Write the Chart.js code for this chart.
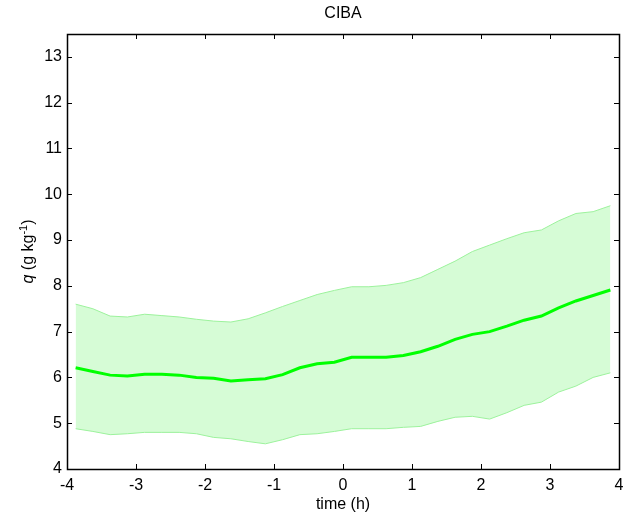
<!DOCTYPE html>
<html>
<head>
<meta charset="utf-8">
<script src="https://cdn.jsdelivr.net/npm/chart.js@4"></script>
<style>
    html, body { margin: 0; padding: 0; background: #fff; }
    #wrap { width: 624px; height: 518px; position: relative; }
</style>
</head>
<body>
<div id="wrap"><canvas id="qChart" width="624" height="518"></canvas></div>
<script>
// time axis (h) and specific humidity q (g/kg)
const timeH = [-3.875, -3.625, -3.375, -3.125, -2.875, -2.625, -2.375, -2.125,
    -1.875, -1.625, -1.375, -1.125, -0.875, -0.625, -0.375, -0.125,
    0.125, 0.375, 0.625, 0.875, 1.125, 1.375, 1.625, 1.875,
    2.125, 2.375, 2.625, 2.875, 3.125, 3.375, 3.625, 3.875];
const qMean = [6.21, 6.13, 6.05, 6.03, 6.07, 6.07, 6.05, 6.00,
    5.98, 5.92, 5.95, 5.97, 6.06, 6.21, 6.30, 6.33,
    6.44, 6.44, 6.44, 6.48, 6.56, 6.68, 6.83, 6.94,
    7.00, 7.12, 7.25, 7.34, 7.52, 7.67, 7.79, 7.91];
const qUpper = [7.60, 7.50, 7.34, 7.32, 7.38, 7.35, 7.32, 7.27,
    7.23, 7.21, 7.28, 7.41, 7.55, 7.68, 7.81, 7.90,
    7.98, 7.98, 8.01, 8.07, 8.18, 8.36, 8.54, 8.75,
    8.89, 9.03, 9.16, 9.22, 9.42, 9.58, 9.62, 9.75];
const qLower = [4.88, 4.82, 4.75, 4.77, 4.80, 4.80, 4.80, 4.77,
    4.69, 4.66, 4.60, 4.55, 4.64, 4.75, 4.77, 4.82,
    4.88, 4.88, 4.88, 4.91, 4.93, 5.04, 5.13, 5.15,
    5.09, 5.23, 5.39, 5.46, 5.68, 5.81, 6.00, 6.10];
const xTicks = [-4, -3, -2, -1, 0, 1, 2, 3, 4];
const yTicks = [4, 5, 6, 7, 8, 9, 10, 11, 12, 13];

const FONT = 'Liberation Sans, Arial, sans-serif';
const FS = 16;

function toPoints(ys) {
    return timeH.map((t, i) => ({ x: t, y: ys[i] }));
}

// MATLAB style box, inward ticks on all four sides, title and axis labels
const matlabFrame = {
    id: 'matlabFrame',
    afterDraw(chart) {
        const ctx = chart.ctx;
        const a = chart.chartArea;
        const xs = chart.scales.x;
        const ys = chart.scales.y;
        const tl = 5;
        ctx.save();
        ctx.strokeStyle = '#000';
        ctx.lineWidth = 1;
        ctx.beginPath();
        xTicks.forEach(v => {
            const px = Math.round(xs.getPixelForValue(v)) + 0.5;
            ctx.moveTo(px, a.bottom); ctx.lineTo(px, a.bottom - tl);
            ctx.moveTo(px, a.top); ctx.lineTo(px, a.top + tl);
        });
        yTicks.forEach(v => {
            const py = Math.round(ys.getPixelForValue(v)) + 0.5;
            ctx.moveTo(a.left, py); ctx.lineTo(a.left + tl, py);
            ctx.moveTo(a.right, py); ctx.lineTo(a.right - tl, py);
        });
        ctx.stroke();
        ctx.lineWidth = 1.5;
        ctx.strokeRect(Math.round(a.left) + 0.5, Math.round(a.top) + 0.5,
            Math.round(a.right - a.left), Math.round(a.bottom - a.top));

        ctx.fillStyle = '#000';
        ctx.textAlign = 'center';
        ctx.textBaseline = 'middle';
        ctx.font = FS + 'px ' + FONT;
        const cx = (a.left + a.right) / 2;
        ctx.fillText('CIBA', cx, 14);
        ctx.fillText('time (h)', cx, 505);

        // y label: q (g kg^-1), rotated
        const parts = [
            { t: 'q', font: 'italic ' + FS + 'px ' + FONT, dy: 0 },
            { t: ' (g kg', font: FS + 'px ' + FONT, dy: 0 },
            { t: '-1', font: '11px ' + FONT, dy: -6 },
            { t: ')', font: FS + 'px ' + FONT, dy: 0 }
        ];
        let total = 0;
        parts.forEach(p => { ctx.font = p.font; p.w = ctx.measureText(p.t).width; total += p.w; });
        ctx.translate(28, (a.top + a.bottom) / 2);
        ctx.rotate(-Math.PI / 2);
        ctx.textAlign = 'left';
        ctx.textBaseline = 'alphabetic';
        let x = -total / 2;
        parts.forEach(p => {
            ctx.font = p.font;
            ctx.fillText(p.t, x, 5 + p.dy);
            x += p.w;
        });
        ctx.restore();
    }
};

const chart = new Chart(document.getElementById('qChart').getContext('2d'), {
    type: 'line',
    data: {
        datasets: [
            {
                label: 'lower',
                data: toPoints(qLower),
                borderColor: '#9cf29c',
                borderWidth: 1,
                pointRadius: 0,
                fill: false,
                tension: 0,
                order: 2
            },
            {
                label: 'upper',
                data: toPoints(qUpper),
                borderColor: '#9cf29c',
                borderWidth: 1,
                backgroundColor: '#d6fcd6',
                pointRadius: 0,
                fill: { target: 0 },
                tension: 0,
                order: 2
            },
            {
                label: 'mean',
                data: toPoints(qMean),
                borderColor: '#00ff00',
                borderWidth: 3,
                pointRadius: 0,
                fill: false,
                tension: 0,
                order: 1
            }
        ]
    },
    options: {
        responsive: false,
        animation: false,
        devicePixelRatio: 1,
        layout: { padding: { left: 0, right: 5, top: 34, bottom: 0 } },
        plugins: {
            legend: { display: false },
            title: { display: false },
            tooltip: { enabled: false }
        },
        scales: {
            x: {
                type: 'linear',
                min: -4,
                max: 4,
                afterBuildTicks: s => { s.ticks = xTicks.map(v => ({ value: v })); },
                afterFit: s => { s.height = 49; s.paddingLeft = 0; s.paddingRight = 0; },
                grid: { display: false, drawTicks: false },
                border: { display: false },
                ticks: { color: '#000', font: { family: FONT, size: FS }, padding: 7, maxRotation: 0 }
            },
            y: {
                type: 'linear',
                min: 4,
                max: 13.5,
                afterBuildTicks: s => { s.ticks = yTicks.map(v => ({ value: v })); },
                afterFit: s => { s.width = 67; s.paddingTop = 0; s.paddingBottom = 0; },
                grid: { display: false, drawTicks: false },
                border: { display: false },
                ticks: { color: '#000', font: { family: FONT, size: FS }, padding: 5 }
            }
        }
    },
    plugins: [matlabFrame]
});
</script>
</body>
</html>
